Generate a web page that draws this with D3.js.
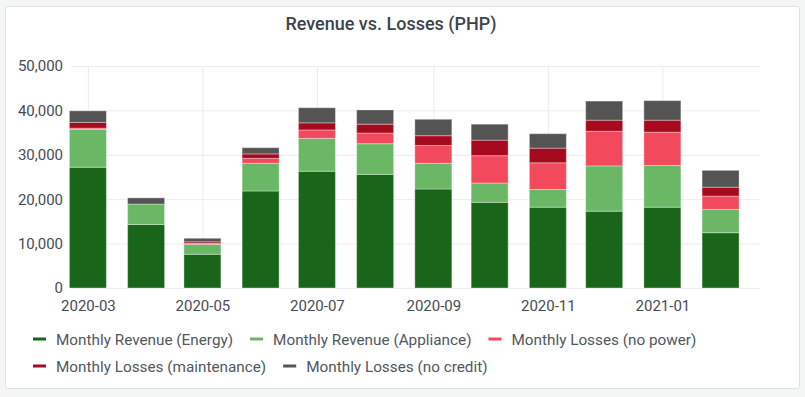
<!DOCTYPE html>
<html>
<head>
<meta charset="utf-8">
<script src="https://cdn.jsdelivr.net/npm/d3@7"></script>
<style>
  body { margin: 0; background: #f4f5f5; font-family: Roboto, "Noto Sans", sans-serif; }
  .panel { position: absolute; left: 5px; top: 6px; width: 793px; height: 381px;
           background: #fff; border: 1px solid #dfe1e4; border-radius: 3px; }
  svg { position: absolute; left: 0; top: 0; }
  .axis text { fill: #464c54; font-size: 15px; font-family: Roboto, sans-serif; }
  .grid line { stroke: #ececec; }
</style>
</head>
<body>
<div class="panel"></div>
<div id="chart-area"></div>
<script>
// chart data
var months = ["2020-03", "2020-04", "2020-05", "2020-06", "2020-07", "2020-08",
              "2020-09", "2020-10", "2020-11", "2020-12", "2021-01", "2021-02"];
var revenueEnergy    = [27200, 14300, 7600, 21850, 26300, 25600, 22300, 19300, 18200, 17300, 18200, 12450];
var revenueAppliance = [8500, 4600, 2250, 6250, 7400, 6900, 5800, 4350, 4000, 10200, 9400, 5250];
var lossesNoPower    = [300, 0, 200, 1100, 1900, 2400, 4000, 6150, 6000, 7800, 7500, 3000];
var lossesMaint      = [1300, 0, 350, 1000, 1600, 2000, 2200, 3500, 3300, 2500, 2700, 2000];
var lossesNoCredit   = [2600, 1400, 800, 1400, 3400, 3200, 3700, 3600, 3250, 4300, 4400, 3800];
var seriesNames = ["Monthly Revenue (Energy)", "Monthly Revenue (Appliance)", "Monthly Losses (no power)",
                   "Monthly Losses (maintenance)", "Monthly Losses (no credit)"];
var yTicks = [0, 10000, 20000, 30000, 40000, 50000];

var colors = ["#19661b", "#6ab766", "#f2495c", "#a50a1f", "#545454"];
var keys = ["energy", "appliance", "nopower", "maint", "nocredit"];

var parseMonth = d3.utcParse("%Y-%m");
var data = months.map(function(m, i){
    return {
        date: parseMonth(m),
        energy: revenueEnergy[i],
        appliance: revenueAppliance[i],
        nopower: lossesNoPower[i],
        maint: lossesMaint[i],
        nocredit: lossesNoCredit[i]
    };
});

var W = 805, H = 397;
var margin = { left: 71, right: 45, top: 66, bottom: 109 };
var width = W - margin.left - margin.right,
    height = H - margin.top - margin.bottom;

var svg = d3.select("#chart-area").append("svg")
    .attr("width", W)
    .attr("height", H);

// Title
svg.append("text")
    .attr("x", 391)
    .attr("y", 30)
    .attr("text-anchor", "middle")
    .attr("font-size", "18px")
    .attr("font-weight", 500)
    .attr("fill", "#3d434b")
    .text("Revenue vs. Losses (PHP)");

var g = svg.append("g")
    .attr("transform", "translate(" + margin.left + "," + margin.top + ")");

var x = d3.scaleUtc()
    .domain([new Date(Date.UTC(2020, 1, 21)), new Date(Date.UTC(2021, 1, 22))])
    .range([0, width]);

var y = d3.scaleLinear()
    .domain([0, 50000])
    .range([height, 0]);

// grid
g.append("g")
    .attr("class", "grid")
    .call(d3.axisLeft(y).tickValues(yTicks).tickSize(-width).tickFormat(""))
    .call(function(s){ s.select(".domain").remove(); });

g.append("g")
    .attr("class", "grid")
    .call(d3.axisTop(x).ticks(d3.utcMonth.every(2)).tickSize(-height).tickFormat(""))
    .call(function(s){ s.select(".domain").remove(); });

// axes
var yAxisGroup = g.append("g").attr("class", "y axis")
    .call(d3.axisLeft(y).tickValues(yTicks).tickSize(0).tickPadding(8)
        .tickFormat(d3.format(",")));
yAxisGroup.select(".domain").remove();

var xAxisGroup = g.append("g").attr("class", "x axis")
    .attr("transform", "translate(0," + height + ")")
    .call(d3.axisBottom(x).ticks(d3.utcMonth.every(2)).tickSize(0).tickPadding(12)
        .tickFormat(d3.utcFormat("%Y-%m")));
xAxisGroup.select(".domain").remove();

// stacked bars
var stack = d3.stack().keys(keys);
var layers = stack(data);
var barWidth = 37;

var layerGroups = g.selectAll("g.layer")
    .data(layers)
    .enter().append("g")
        .attr("class", "layer")
        .attr("fill", function(d, i){ return colors[i]; });

layerGroups.selectAll("rect")
    .data(function(d){ return d; })
    .enter().append("rect")
        .attr("x", function(d){ return x(d.data.date) - barWidth / 2; })
        .attr("y", function(d){ return y(d[1]); })
        .attr("width", barWidth)
        .attr("height", function(d){ return y(d[0]) - y(d[1]); })
        .attr("stroke", "#fff")
        .attr("stroke-opacity", 0.35)
        .attr("stroke-width", 1);

// legend
var legend = svg.append("g").attr("class", "legend");
var lx = 33, ly = 339, rowH = 27, maxX = 760;
seriesNames.forEach(function(name, i){
    var item = legend.append("g");
    item.append("line")
        .attr("x1", 0).attr("x2", 13)
        .attr("y1", 0).attr("y2", 0)
        .attr("stroke", colors[i])
        .attr("stroke-width", 3);
    var t = item.append("text")
        .attr("x", 23)
        .attr("y", 5.5)
        .attr("font-size", "15.3px")
        .attr("fill", "#52575e")
        .text(name);
    var w = 23 + t.node().getComputedTextLength();
    if (lx + w > maxX) { lx = 33; ly += rowH; }
    item.attr("transform", "translate(" + lx + "," + ly + ")");
    lx += w + 17;
});
</script>
</body>
</html>
